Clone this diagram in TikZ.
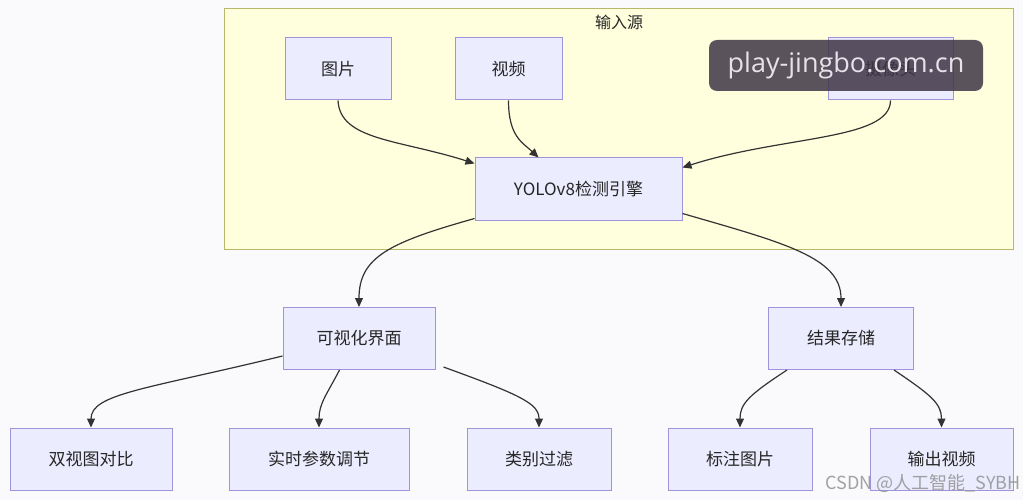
\documentclass[tikz,border=0pt]{standalone}
\usepackage{fontspec}
\setmainfont{Noto Sans CJK SC}
\newfontfamily\wmfont{Open Sans}
\usetikzlibrary{arrows.meta,calc}
\definecolor{bgc}{HTML}{FAF9FB}
\definecolor{nodefill}{HTML}{ECECFF}
\definecolor{nodeborder}{HTML}{9F93DB}
\definecolor{clfill}{HTML}{FFFFDE}
\definecolor{clborder}{HTML}{B8B86A}
\definecolor{edgec}{HTML}{333333}
\definecolor{wmbg}{HTML}{3F3545}
\definecolor{wmtext}{HTML}{E6E2EA}
\begin{document}
\begin{tikzpicture}[x=1pt,y=-1pt,
  box/.style={draw=nodeborder,fill=nodefill,line width=1pt,minimum height=62pt,inner sep=0pt,font=\fontsize{17}{20}\selectfont,text=black!85},
  edge/.style={draw=edgec,line width=1.2pt,-{Triangle[length=9pt,width=8pt]}}]
\useasboundingbox (0,0) rectangle (1023,500);
\fill[bgc] (0,0) rectangle (1023,500);
% cluster
\draw[fill=clfill,draw=clborder,line width=1pt] (224,9) rectangle (1013,249);
\node[font=\fontsize{16}{19}\selectfont,text=black!85] (cltitle) at (619,22) {输入源};
% nodes
\node[box,minimum width=106pt] (img) at (338,69) {图片};
\node[box,minimum width=107pt] (vid) at (508.5,69) {视频};
\node[box,minimum width=125pt] (cam) at (890.5,69) {摄像头};
\node[box,minimum width=207pt] (yolo) at (578.5,189) {YOLOv8检测引擎};
\node[box,minimum width=152pt] (vis) at (359,338.5) {可视化界面};
\node[box,minimum width=145pt] (res) at (841,338.5) {结果存储};
\node[box,minimum width=162pt] (dual) at (91,459) {双视图对比};
\node[box,minimum width=180pt] (rt) at (319,459) {实时参数调节};
\node[box,minimum width=144pt] (cls) at (539,459) {类别过滤};
\node[box,minimum width=144pt] (ann) at (740,459) {标注图片};
\node[box,minimum width=143pt] (out) at (941.5,459) {输出视频};
% edges
\draw[edge] (img.south) .. controls ($(img.south)+(2,40)$) and ($(yolo.north west)+(-75,-18)$) .. ($(yolo.north west)+(0,6)$);
\draw[edge] (vid.south) .. controls ($(vid.south)+(0,36)$) and ($(vid.south)+(14,42)$) .. ($(yolo.north west)+(64,0)$);
\draw[edge] (cam.south) .. controls ($(cam.south)+(0,40)$) and ($(yolo.north east)+(100,-22)$) .. ($(yolo.north east)+(0,10)$);
\draw[edge] ($(yolo.south west)+(0,-2)$) .. controls ($(yolo.south west)+(-85,22)$) and ($(vis.north)+(0,-50)$) .. (vis.north);
\draw[edge] ($(yolo.south east)+(0,-7)$) .. controls ($(yolo.south east)+(100,22)$) and ($(res.north)+(0,-50)$) .. (res.north);
\draw[edge] ($(vis.north west)+(0,49)$) .. controls ($(vis.north west)+(-135,82)$) and ($(dual.north)+(0,-34)$) .. (dual.north);
\draw[edge] ($(vis.south west)+(57,0)$) .. controls ($(vis.south west)+(44,25)$) and ($(rt.north)+(0,-24)$) .. (rt.north);
\draw[edge] ($(vis.south east)+(8,-3)$) .. controls ($(vis.south east)+(85,25)$) and ($(cls.north)+(0,-24)$) .. (cls.north);
\draw[edge] ($(res.south west)+(19,0)$) .. controls ($(res.south west)+(-19,25)$) and ($(ann.north)+(0,-24)$) .. (ann.north);
\draw[edge] ($(res.south east)+(-20,0)$) .. controls ($(res.south east)+(17,25)$) and ($(out.north)+(0,-24)$) .. (out.north);
% watermark
\node[fill=wmbg,fill opacity=0.85,text opacity=1,text=wmtext,rounded corners=8pt,minimum width=274pt,minimum height=51pt,inner sep=0pt,font=\wmfont\fontsize{27}{30}\selectfont] (wm) at (846,65.5) {play-jingbo.com.cn};
\node[text=black!45,text opacity=0.8,font=\fontsize{18}{21}\selectfont,anchor=east,inner sep=0pt] (csdn) at (1021,483) {CSDN @人工智能\_SYBH};
\end{tikzpicture}
\end{document}
